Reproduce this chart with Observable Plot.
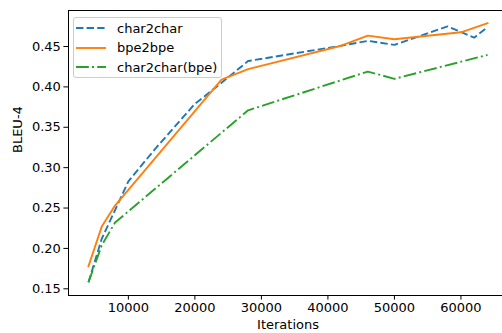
<!DOCTYPE html>
<html>
<head>
<meta charset="utf-8">
<script src="https://cdn.jsdelivr.net/npm/d3@7"></script>
<script src="https://cdn.jsdelivr.net/npm/@observablehq/plot@0.6"></script>
<style>
  html, body { margin: 0; padding: 0; background: #fff; }
  #wrap { position: relative; width: 502px; height: 333px; overflow: hidden; font-family: "DejaVu Sans", sans-serif; }
  #legend { position: absolute; left: 73px; top: 17px; width: 149px; height: 61px; border: 1px solid #cccccc; border-radius: 3px; background: rgba(255,255,255,0.8); box-sizing: border-box; }
  .row { position: absolute; left: 0; height: 20px; display: flex; align-items: center; font-size: 13px; color: #000; white-space: nowrap; }
  .row svg { margin-left: 2px; margin-right: 11px; }
</style>
</head>
<body>
<div id="wrap"></div>
<script>
// ---- data ----
const xTicks = [10000, 20000, 30000, 40000, 50000, 60000];
const yTicks = [0.15, 0.20, 0.25, 0.30, 0.35, 0.40, 0.45];

const seriesNames = ["char2char", "bpe2bpe", "char2char(bpe)"];

const char2charIters = [4000, 6000, 10000, 14000, 20000, 24000, 28000, 42000, 46000, 50000, 58000, 62000, 64000];
const char2charBleu  = [0.158, 0.212, 0.283, 0.323, 0.379, 0.405, 0.432, 0.451, 0.457, 0.452, 0.475, 0.461, 0.474];

const bpe2bpeIters = [4000, 6000, 8000, 24000, 28000, 42000, 46000, 50000, 60000, 64000];
const bpe2bpeBleu  = [0.178, 0.227, 0.253, 0.409, 0.422, 0.451, 0.4635, 0.459, 0.4676, 0.479];

const char2charBpeIters = [4000, 6000, 8000, 28000, 46000, 50000, 64000];
const char2charBpeBleu  = [0.158, 0.204, 0.232, 0.371, 0.419, 0.410, 0.4396];

// ---- build table ----
const colors = ["#1f77b4", "#ff7f0e", "#2ca02c"];
const dashes = ["7.4,3.2", null, "12.8,3.2,2,3.2"];
const raw = [[char2charIters, char2charBleu], [bpe2bpeIters, bpe2bpeBleu], [char2charBpeIters, char2charBpeBleu]];
const tables = raw.map(([xs, ys], i) => xs.map((x, j) => ({series: seriesNames[i], x, y: ys[j]})));

const font = "DejaVu Sans";

const chart = Plot.plot({
  width: 502,
  height: 333,
  marginLeft: 68,
  marginTop: 10,
  marginBottom: 38,
  marginRight: -5,
  style: {fontFamily: font, fontSize: "13px", color: "#000", background: "transparent"},
  x: {domain: [1000, 67000]},
  y: {domain: [0.1417, 0.4946]},
  marks: [
    ...tables.map((t, i) => Plot.line(t, {
      x: "x", y: "y", stroke: colors[i], strokeWidth: 1.9,
      strokeDasharray: dashes[i], strokeLinejoin: "round", strokeLinecap: dashes[i] ? "butt" : "square"
    })),
    Plot.frame({stroke: "#000", strokeWidth: 1}),
    Plot.axisX({ticks: xTicks, tickFormat: d => String(d), tickSize: 4.6, tickPadding: 3, label: null, fontSize: 13, strokeWidth: 1}),
    Plot.axisY({ticks: yTicks, tickFormat: d3.format(".2f"), tickSize: 4.6, tickPadding: 3, label: null, fontSize: 13, strokeWidth: 1}),
    Plot.text(["Iterations"], {frameAnchor: "bottom", dy: 33, fontSize: 13, fill: "#000"}),
    Plot.text(["BLEU-4"], {frameAnchor: "left", dx: -51, rotate: -90, fontSize: 13, fill: "#000"})
  ]
});

const wrap = document.getElementById("wrap");
wrap.appendChild(chart);

// ---- legend ----
const legend = document.createElement("div");
legend.id = "legend";
seriesNames.forEach((name, i) => {
  const row = document.createElement("div");
  row.className = "row";
  row.style.top = (0 + i * 19.6) + "px";
  const sw = d3.create("svg").attr("width", 30).attr("height", 10);
  sw.append("line").attr("x1", 0).attr("x2", 30).attr("y1", 5).attr("y2", 5)
    .attr("stroke", colors[i]).attr("stroke-width", 1.9)
    .attr("stroke-dasharray", dashes[i]);
  row.appendChild(sw.node());
  const label = document.createElement("span");
  label.textContent = name;
  row.appendChild(label);
  legend.appendChild(row);
});
wrap.appendChild(legend);
</script>
</body>
</html>
